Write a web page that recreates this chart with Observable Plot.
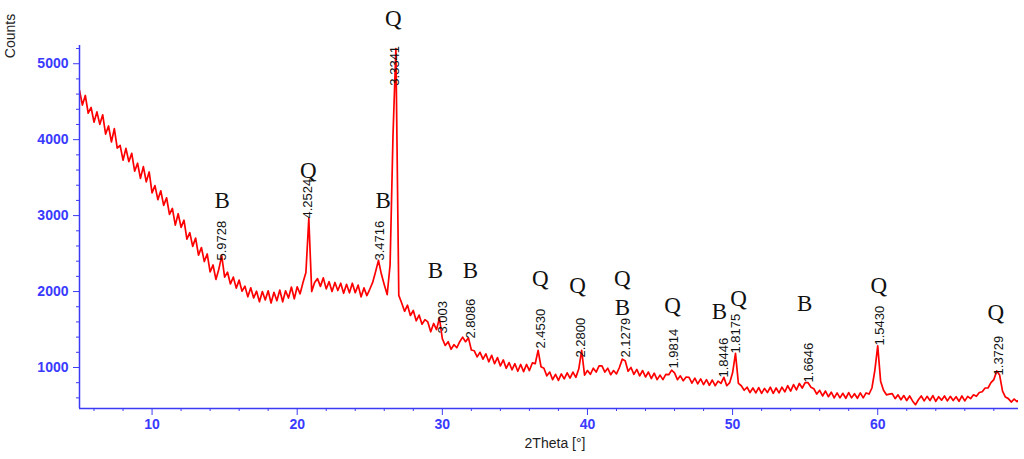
<!DOCTYPE html>
<html>
<head>
<meta charset="utf-8">
<script src="https://cdn.jsdelivr.net/npm/d3@7"></script>
<script src="https://cdn.jsdelivr.net/npm/@observablehq/plot@0.6"></script>
<style>
  html, body { margin: 0; padding: 0; background: #fff; }
</style>
</head>
<body>
<div id="chart"></div>
<script>
// Scan: 2Theta from 5.0 in steps of 0.2 degrees
const scanStart = 5.0;
const scanStep = 0.2;
const counts = [
  4650, 4456, 4582, 4348, 4424, 4230, 4366, 4202, 4328, 4074,
  4180, 3970, 4145, 3890, 3925, 3730, 3885, 3710, 3820, 3585,
  3690, 3490, 3645, 3445, 3575, 3300, 3395, 3210, 3327, 3135,
  3235, 3015, 3095, 2875, 3025, 2845, 2940, 2690, 2775, 2595,
  2705, 2480, 2580, 2395, 2495, 2260, 2350, 2160, 2295, 2470,
  2190, 2255, 2100, 2190, 2045, 2150, 2005, 2070, 1930, 2050,
  1915, 2005, 1865, 2000, 1890, 2010, 1850, 1990, 1880, 2020,
  1865, 2010, 1915, 2060, 1905, 2063, 1970, 2120, 2250, 2960,
  2000, 2120, 2170, 2068, 2180, 2035, 2130, 2000, 2120, 2013,
  2110, 1977, 2095, 1983, 2110, 1985, 2085, 1930, 2048, 1947,
  2030, 2120, 2260, 2410, 2230, 2090, 1960, 2350, 4050, 5200,
  1950, 1850, 1740, 1820, 1685, 1751, 1615, 1690, 1570, 1630,
  1600, 1470, 1580, 1500, 1650, 1380, 1290, 1340, 1240, 1300,
  1260, 1340, 1400, 1340, 1390, 1230, 1220, 1140, 1200, 1110,
  1180, 1075, 1160, 1050, 1130, 1020, 1100, 990, 1065, 970,
  1050, 950, 1040, 945, 1040, 960, 1060, 1050, 1225, 1010,
  990, 890, 940, 840, 910, 830, 915, 850, 930, 860,
  940, 870, 980, 1225, 900, 960, 910, 990, 940, 1020,
  1020, 940, 990, 905, 960, 915, 1000, 1110, 1090, 950,
  1000, 910, 975, 890, 960, 875, 940, 855, 925, 840,
  900, 840, 910, 905, 965, 930, 840, 890, 825, 875,
  870, 795, 860, 785, 850, 775, 840, 765, 835, 760,
  820, 790, 870, 760, 800, 930, 1185, 790, 760, 700,
  740, 670, 730, 665, 735, 660, 725, 670, 740, 660,
  730, 665, 740, 680, 760, 690, 775, 705, 790, 730,
  800, 800, 740, 720, 650, 700, 625, 690, 615, 675,
  600, 665, 600, 660, 595, 670, 600, 655, 595, 665,
  600, 665, 650, 730, 960, 1285, 820, 700, 640, 650,
  655, 590, 640, 575, 630, 565, 625, 560, 510, 575,
  625, 560, 620, 565, 630, 555, 615, 570, 625, 560,
  620, 565, 615, 555, 625, 560, 620, 590, 640, 620,
  670, 680, 730, 730, 800, 840, 955, 900, 690, 610,
  590, 545, 585, 550, 580
];

// d-spacing peak labels
const dLabels = ["5.9728","4.2524","3.4716","3.3341","3.003","2.8086","2.4530","2.2800","2.1279","1.9814","1.8446","1.8175","1.6646","1.5430","1.3729"];
const dTheta  = [14.83, 20.76, 25.72, 26.76, 30.0, 31.93, 36.76, 39.52, 42.62, 45.93, 49.38, 50.2, 55.24, 60.14, 68.34];
const dCounts = [2408, 2961, 2408, 4711, 1447, 1382, 1250, 1132, 1132, 987, 868, 1184, 803, 1290, 895];

// Phase letters (Q = quartz, B)
const phase       = ["Q","Q","B","B","B","B","Q","Q","Q","B","Q","B","Q","B","Q","Q"];
const phaseTheta  = [26.62, 20.76, 14.83, 25.93, 29.52, 31.93, 36.76, 39.31, 42.41, 42.41, 45.86, 49.10, 50.41, 54.97, 60.07, 68.14];
const phaseCounts = [5593, 3593, 3198, 3198, 2277, 2277, 2171, 2079, 2171, 1790, 1816, 1737, 1908, 1842, 2079, 1724];

const xDomain = [5, 69.7];
const yDomain = [460, 5240];
const yMajor = [1000, 2000, 3000, 4000, 5000];
const yMinor = [600, 800, 1200, 1400, 1600, 1800, 2200, 2400, 2600, 2800, 3200, 3400, 3600, 3800, 4200, 4400, 4600, 4800, 5200];
const xMajor = [10, 20, 30, 40, 50, 60];
const xMinor = [6, 8, 12, 14, 16, 18, 22, 24, 26, 28, 32, 34, 36, 38, 42, 44, 46, 48, 52, 54, 56, 58, 62, 64, 66, 68];

const scan = counts.map((c, i) => ({theta: scanStart + i * scanStep, counts: c}));
const peaks = dLabels.map((t, i) => ({label: t, theta: dTheta[i], counts: dCounts[i]}));
const phases = phase.map((p, i) => ({label: p, theta: phaseTheta[i], counts: phaseCounts[i]}));

const blue = "#3b3bf5";
const tickBlue = "#3a3aff";

const chart = Plot.plot({
  width: 1024,
  height: 459,
  marginLeft: 79,
  marginRight: 6,
  marginTop: 45,
  marginBottom: 51,
  style: {fontFamily: "Liberation Sans, Arial, sans-serif", background: "#fff"},
  x: {domain: xDomain},
  y: {domain: yDomain},
  marks: [
    Plot.line(scan, {x: "theta", y: "counts", stroke: "#ff0000", strokeWidth: 1.7, clip: true}),
    Plot.ruleX([xDomain[0]], {stroke: blue, strokeWidth: 1.5}),
    Plot.ruleY([yDomain[0]], {stroke: blue, strokeWidth: 1.5}),
    Plot.axisY({ticks: yMajor, tickSize: 6, tickPadding: 5, tickFormat: d3.format("d"), color: tickBlue, stroke: blue, fontSize: 14, fontWeight: "bold", label: null}),
    Plot.axisY({ticks: yMinor, tickSize: 3, tickFormat: () => "", stroke: blue, label: null}),
    Plot.axisX({ticks: xMajor, tickSize: 7, tickPadding: 4, tickFormat: d3.format("d"), color: tickBlue, stroke: blue, fontSize: 14, fontWeight: "bold", label: null}),
    Plot.axisX({ticks: xMinor, tickSize: 3, tickFormat: () => "", stroke: blue, label: null}),
    Plot.text(peaks, {x: "theta", y: "counts", text: "label", rotate: -90, textAnchor: "start", fontSize: 13, fill: "#111"}),
    Plot.text(phases, {x: "theta", y: "counts", text: "label", fontFamily: "Liberation Serif, Times New Roman, serif", fontSize: 23, fill: "#111"}),
    Plot.text(["2Theta [°]"], {frameAnchor: "bottom", dx: 6, dy: 39, fontSize: 14, fill: "#222"})
  ]
});

// Y axis title, rotated, at top-left
d3.select(chart).append("text")
  .attr("transform", "translate(10,36) rotate(-90)")
  .attr("text-anchor", "middle")
  .attr("dominant-baseline", "central")
  .attr("font-family", "Liberation Sans, Arial, sans-serif")
  .attr("font-size", 14)
  .attr("fill", "#222")
  .text("Counts");

document.getElementById("chart").append(chart);
</script>
</body>
</html>
